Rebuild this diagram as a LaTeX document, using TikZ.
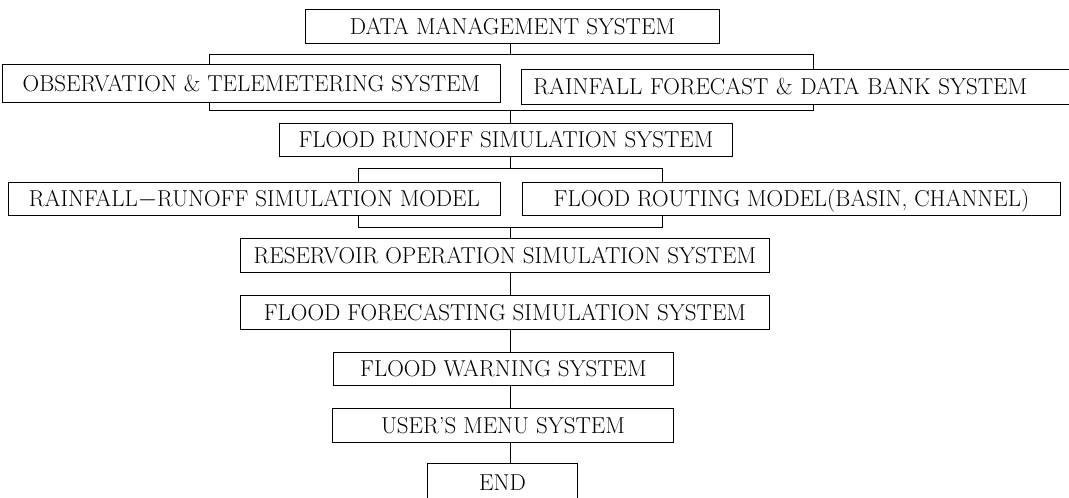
\documentclass[tikz,border=0pt]{standalone}
\usepackage{fontspec}

\begin{document}
\begin{tikzpicture}[
        x=1pt, y=-1pt,
        line width=0.9pt,
        sysbox/.style={draw, rectangle, anchor=north west, inner sep=0pt,
            text height=15.7pt, text depth=0pt,
            font=\fontsize{23}{26}\selectfont}
    ]
    \useasboundingbox (0,0) rectangle (1069,498);
    \clip (0,0) rectangle (1069,498);

    \node[sysbox, minimum width=414, minimum height=34] (dms)   at (305,9)   {DATA MANAGEMENT SYSTEM};
    \node[sysbox, minimum width=498, minimum height=38] (ots)   at (2,64)    {OBSERVATION \& TELEMETERING SYSTEM};
    \node[sysbox, minimum height=35, inner xsep=12pt, text width=560pt, align=left]
                                                        (rfdb)  at (521,69)  {RAINFALL FORECAST \& DATA BANK SYSTEM};
    \node[sysbox, minimum width=453, minimum height=33] (frss)  at (279,123) {FLOOD RUNOFF SIMULATION SYSTEM};
    \node[sysbox, minimum width=492, minimum height=33] (rrsm)  at (8,182)   {RAINFALL$-$RUNOFF SIMULATION MODEL};
    \node[sysbox, minimum width=538, minimum height=33] (frm)   at (522,182) {FLOOD ROUTING MODEL(BASIN, CHANNEL)};
    \node[sysbox, minimum width=529, minimum height=34] (ross)  at (240,238) {RESERVOIR OPERATION SIMULATION SYSTEM};
    \node[sysbox, minimum width=529, minimum height=34] (ffss)  at (240,295) {FLOOD FORECASTING SIMULATION SYSTEM};
    \node[sysbox, minimum width=340, minimum height=33] (fws)   at (333,352) {FLOOD WARNING SYSTEM};
    \node[sysbox, minimum width=341, minimum height=34] (ums)   at (332,408) {USER'S MENU SYSTEM};
    \node[sysbox, minimum width=150, minimum height=38] (fin)   at (427,463) {END};

    % junctions of the branch lines
    \coordinate (j1) at (510,54);   \coordinate (a1) at (209,54);  \coordinate (a2) at (813,54);
    \coordinate (j2) at (510,110);  \coordinate (b1) at (209,110); \coordinate (b2) at (813,110);
    \coordinate (j3) at (510,168);  \coordinate (c1) at (358,168); \coordinate (c2) at (662,168);
    \coordinate (j4) at (510,227);  \coordinate (d1) at (358,227); \coordinate (d2) at (662,227);

    \draw (dms.south -| j1) -- (j1);
    \draw (ots.north -| a1) -- (a1) -- (a2) -- (rfdb.north -| a2);
    \draw (ots.south -| b1) -- (b1) -- (b2) -- (rfdb.south -| b2);
    \draw (j2) -- (frss.north -| j2);
    \draw (frss.south -| j3) -- (j3);
    \draw (rrsm.north -| c1) -- (c1) -- (c2) -- (frm.north -| c2);
    \draw (rrsm.south -| d1) -- (d1) -- (d2) -- (frm.south -| d2);
    \draw (j4) -- (ross.north -| j4);
    \draw (ross.south -| j4) -- (ffss.north -| j4);
    \draw (ffss.south -| j4) -- (fws.north -| j4);
    \draw (fws.south -| j4) -- (ums.north -| j4);
    \draw (ums.south -| j4) -- (fin.north -| j4);
\end{tikzpicture}
\end{document}
